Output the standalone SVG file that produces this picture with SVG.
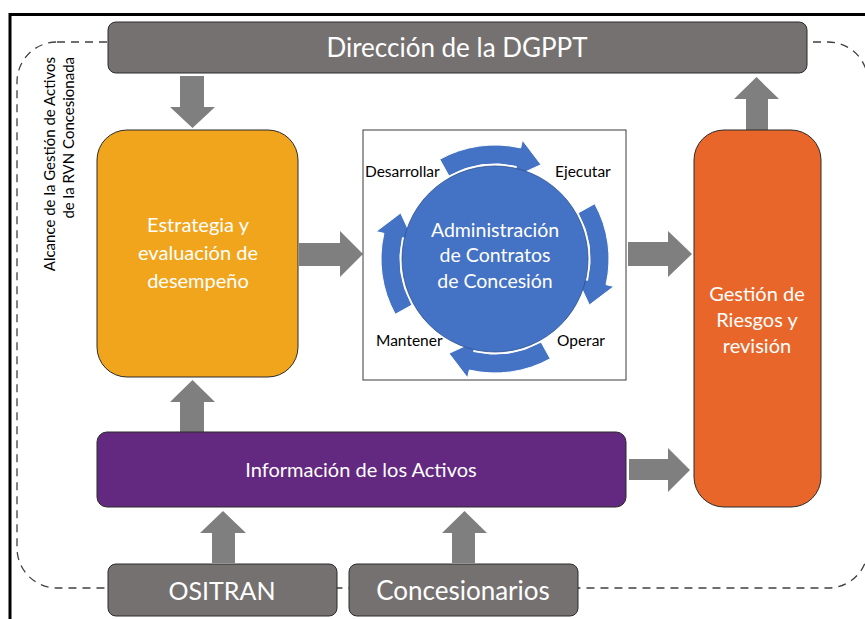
<svg xmlns="http://www.w3.org/2000/svg" width="865" height="619" viewBox="0 0 865 619">
<style>
.box{stroke:#2b2b2b;stroke-width:1}
.gray{fill:#767171}
.arr{fill:#7f7f7f}
.wt{fill:#ffffff;font-family:Lato,"Open Sans",sans-serif;text-anchor:middle}
.bk{fill:#000000;font-family:Lato,"Open Sans",sans-serif}
.cyc{fill:#4472c4;stroke:#ffffff;stroke-width:1}
</style>
<rect x="0" y="0" width="865" height="619" fill="#ffffff"/>
<rect x="10" y="14.5" width="900" height="700" fill="none" stroke="#000000" stroke-width="3"/>
<rect x="17" y="42" width="851" height="546" rx="40" fill="none" stroke="#404040" stroke-width="1.3" stroke-dasharray="8,6"/>
<text class="bk" font-size="15" text-anchor="end" transform="translate(55,57) rotate(-90)">Alcance de la Gestión de Activos</text>
<text class="bk" font-size="15" text-anchor="end" transform="translate(74,57) rotate(-90)">de la RVN Concesionada</text>

<g id="connectors">
<polygon class="arr" points="180,76 204,76 204,107 215,107 192.5,128 170,107 180,107"/>
<polygon class="arr" points="299,243 340,243 340,231 363,254 340,277 340,266 299,266"/>
<polygon class="arr" points="628,242 668,242 668,231 692,254 668,277 668,266 628,266"/>
<polygon class="arr" points="746,130 768,130 768,99 779,99 756.5,77 734,99 746,99"/>
<polygon class="arr" points="180,432 204,432 204,402 215,402 192.5,380 170,402 180,402"/>
<polygon class="arr" points="629,459 668,459 668,448 690,470 668,492 668,480 629,480"/>
<polygon class="arr" points="212,563 235,563 235,533 246,533 223,511 200,533 212,533"/>
<polygon class="arr" points="452,563 475,563 475,533 487,533 464.5,511 442,533 452,533"/>
</g>

<g id="direccion">
<rect class="box gray" x="108" y="22" width="699" height="51" rx="8"/>
<text class="wt" x="457" y="57" font-size="26">Dirección de la DGPPT</text>
</g>

<g id="estrategia">
<rect class="box" x="97" y="130" width="201" height="247" rx="30" fill="#f1a51c"/>
<text class="wt" x="198" y="232" font-size="20">Estrategia y</text>
<text class="wt" x="198" y="260" font-size="20">evaluación de</text>
<text class="wt" x="198" y="288" font-size="20">desempeño</text>
</g>

<g id="administracion">
<rect x="363" y="130" width="263" height="250" fill="#ffffff" stroke="#3a3a3a" stroke-width="1"/>
<g id="cycle-arrows">
<path class="cyc" d="M439.73,159.29 A114,114 0 0 1 520.64,147.92 L522.44,140.13 L541.03,164.63 L513.90,177.15 L516.37,166.43 A95,95 0 0 0 448.94,175.91 Z"/>
<path class="cyc" d="M594.71,203.73 A114,114 0 0 1 606.08,284.64 L613.87,286.44 L589.37,305.03 L576.85,277.90 L587.57,280.37 A95,95 0 0 0 578.09,212.94 Z"/>
<path class="cyc" d="M550.27,358.71 A114,114 0 0 1 469.36,370.08 L467.56,377.87 L448.97,353.37 L476.10,340.85 L473.63,351.57 A95,95 0 0 0 541.06,342.09 Z"/>
<path class="cyc" d="M395.29,314.27 A114,114 0 0 1 383.92,233.36 L376.13,231.56 L400.63,212.97 L413.15,240.10 L402.44,237.63 A95,95 0 0 0 411.91,305.06 Z"/>
</g>
<circle cx="495" cy="259" r="93" fill="#4472c4" stroke="#2f528f" stroke-width="0.8"/>
<text class="wt" x="495" y="237" font-size="19.5">Administración</text>
<text class="wt" x="495" y="262" font-size="19.5">de Contratos</text>
<text class="wt" x="495" y="288" font-size="19.5">de Concesión</text>
<text class="bk" x="365" y="177" font-size="15.5">Desarrollar</text>
<text class="bk" x="555" y="177" font-size="15.5">Ejecutar</text>
<text class="bk" x="376" y="346" font-size="15.5">Mantener</text>
<text class="bk" x="557" y="346" font-size="15.5">Operar</text>
</g>

<g id="gestion">
<rect class="box" x="694" y="130" width="127" height="377" rx="30" fill="#e9662a"/>
<text class="wt" x="757" y="301" font-size="20">Gestión de</text>
<text class="wt" x="757" y="327" font-size="20">Riesgos y</text>
<text class="wt" x="757" y="353" font-size="20">revisión</text>
</g>

<g id="informacion">
<rect class="box" x="97" y="432" width="529" height="75" rx="10" fill="#63287f"/>
<text class="wt" x="361" y="477" font-size="20">Información de los Activos</text>
</g>

<g id="ositran">
<rect class="box gray" x="108" y="564" width="229" height="52" rx="8"/>
<text class="wt" x="222" y="600" font-size="25">OSITRAN</text>
</g>

<g id="concesionarios">
<rect class="box gray" x="349" y="564" width="229" height="52" rx="8"/>
<text class="wt" x="463" y="600" font-size="26">Concesionarios</text>
</g>
</svg>
